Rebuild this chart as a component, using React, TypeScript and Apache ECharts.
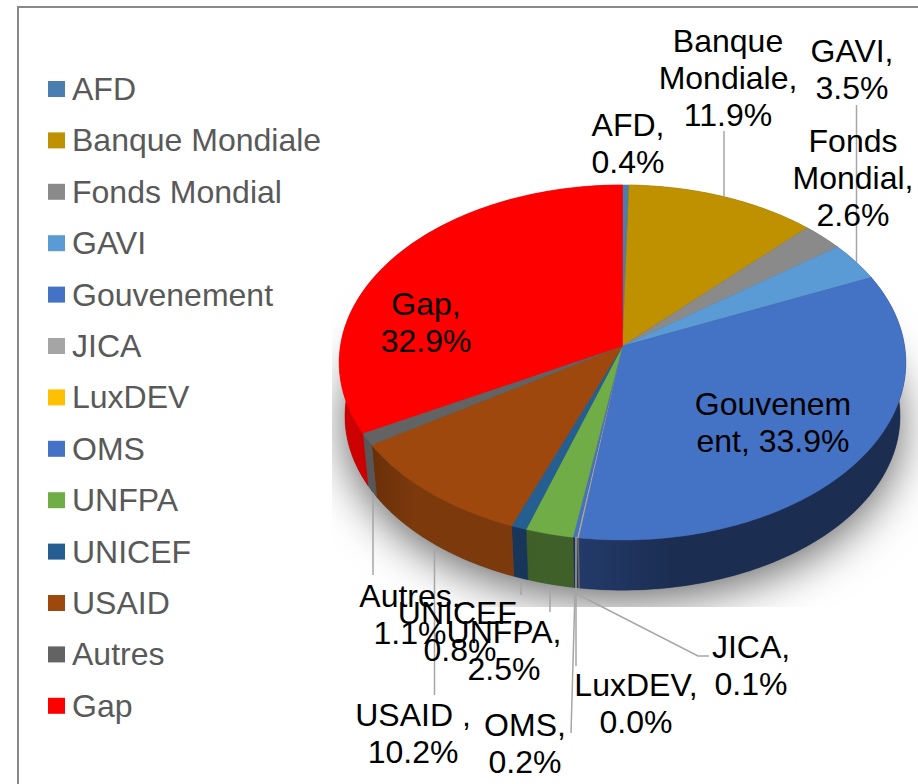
import React, { useEffect, useRef } from "react";
import * as echarts from "echarts";

const names = ["AFD", "Banque Mondiale", "Fonds Mondial", "GAVI", "Gouvenement", "JICA", "LuxDEV", "OMS", "UNFPA", "UNICEF", "USAID", "Autres", "Gap"];
const values = [0.4, 11.9, 2.6, 3.5, 33.9, 0.1, 0.0, 0.2, 2.5, 0.8, 10.2, 1.1, 32.9];
const colors = ["#4A7EB0", "#BF9000", "#8A8A8A", "#5B9BD5", "#4472C4", "#A5A5A5", "#FFC000", "#4472C4", "#70AD47", "#255E91", "#9E480E", "#636363", "#FF0000"];
const wallLeft = ["#2C4A68", "#7A5C00", "#555555", "#33597C", "#233A6A", "#666666", "#997300", "#1C2E55", "#3F5F27", "#17365A", "#6A2F08", "#575757", "#CC0000"];
const wallRight = ["#2C4A68", "#7A5C00", "#555555", "#33597C", "#1B2D50", "#666666", "#997300", "#1C2E55", "#40602A", "#17365A", "#7C390C", "#575757", "#CC0000"];
const labelLines: Record<string, (pct: string) => string[]> = {
  "AFD": (p) => ["AFD,", p],
  "Banque Mondiale": (p) => ["Banque", "Mondiale,", p],
  "Fonds Mondial": (p) => ["Fonds", "Mondial,", p],
  "GAVI": (p) => ["GAVI,", p],
  "Gouvenement": (p) => ["Gouvenem", "ent, " + p],
  "JICA": (p) => ["JICA,", p],
  "LuxDEV": (p) => ["LuxDEV,", p],
  "OMS": (p) => ["OMS,", p],
  "UNFPA": (p) => ["UNFPA,", p],
  "UNICEF": (p) => ["UNICEF,", p],
  "USAID": (p) => ["USAID ,", p],
  "Autres": (p) => ["Autres,", p],
  "Gap": (p) => ["Gap,", p],
};
// label layout: centre x, first-line centre y
const labelPos: Record<string, [number, number]> = {
  "AFD": [628, 125],
  "Banque Mondiale": [728, 41],
  "Fonds Mondial": [853, 141],
  "GAVI": [852, 51],
  "Gouvenement": [773, 404],
  "JICA": [751, 647],
  "LuxDEV": [636, 685],
  "OMS": [525, 725],
  "UNFPA": [504, 632],
  "UNICEF": [460, 613],
  "USAID": [413, 715],
  "Autres": [410, 596],
  "Gap": [426, 304],
};
const leaders: number[][][] = [
  [[724, 131], [724, 197]],
  [[856.5, 105], [856.5, 262]],
  [[373, 493], [373, 575]],
  [[434.5, 548], [434.5, 695]],
  [[521, 581], [521, 595]],
  [[550, 587], [550, 612]],
  [[575, 592], [571, 733]],
  [[576, 537], [576, 666]],
  [[573, 592], [698, 656], [709, 656]],
];

const CX = 622.5, CY = 346, RX = 282, RY = 176, K = 0.093, DROP = 54, BASE = 0.98;
const total = values.reduce((a, b) => a + b, 0);
const project = (deg: number, base = false): number[] => {
  const t = (deg * Math.PI) / 180;
  const X = Math.sin(t), Y = -Math.cos(t);
  const w = 1 - K * Y;
  const s = base ? BASE : 1;
  return [CX + (s * RX * X) / w, CY + (s * RY * Y) / w + (base ? DROP : 0)];
};
const arc = (a: number, b: number, base = false): number[][] => {
  const pts: number[][] = [];
  const n = Math.max(2, Math.ceil(Math.abs(b - a)));
  for (let i = 0; i <= n; i++) pts.push(project(a + ((b - a) * i) / n, base));
  return pts;
};
const startAngle = (i: number) => (values.slice(0, i).reduce((a, b) => a + b, 0) / total) * 360;

export default function App() {
  const ref = useRef<HTMLDivElement>(null);
  useEffect(() => {
    document.body.style.margin = "0";
    const chart = echarts.init(ref.current!, undefined, { renderer: "svg" });
    const series = names.map((name, i) => ({
      type: "custom",
      name,
      coordinateSystem: "none",
      itemStyle: { color: colors[i] },
      data: [[values[i]]],
      z: 2,
      renderItem: (_p: any, api: any) => {
        const v = api.value(0);
        if (!v) return { type: "group", children: [] };
        const a = startAngle(i);
        const b = a + (v / total) * 360;
        const top = arc(a, b);
        const bottom = arc(a, b, true).reverse();
        const thick = v >= 0.5;
        return {
          type: "group",
          children: [
            {
              type: "polygon",
              z2: 1,
              shape: { points: [...top, ...bottom] },
              style: {
                fill: { type: "linear", x: 0, y: 0, x2: 1, y2: 0, colorStops: [{ offset: 0, color: wallLeft[i] }, { offset: 0.3, color: wallRight[i] }, { offset: 1, color: wallRight[i] }] },
                stroke: wallRight[i],
                lineWidth: 0.4,
              },
            },
            {
              type: "polygon",
              z2: 10,
              shape: { points: [[CX, CY], ...top] },
              style: { fill: colors[i], stroke: thick ? colors[i] : "none", lineWidth: thick ? 0.4 : 0 },
            },
          ],
        };
      },
    }));

    const texts: any[] = [];
    names.forEach((name, i) => {
      const lines = labelLines[name](values[i].toFixed(1) + "%");
      const [x, y] = labelPos[name];
      lines.forEach((line, j) => {
        texts.push({
          type: "text",
          z: 6,
          x,
          y: y + j * 37,
          style: { text: line, fill: "#000000", font: '32px "Liberation Sans"', textAlign: "center", textVerticalAlign: "middle" },
        });
      });
    });
    const silhouette = arc(0, 360, true);

    chart.setOption({
      animation: false,
      backgroundColor: "#ffffff",
      legend: {
        orient: "vertical",
        left: 43,
        top: 67,
        itemWidth: 17,
        itemHeight: 16,
        itemGap: 17.4,
        icon: "rect",
        selectedMode: false,
        data: names,
        textStyle: { color: "#595959", fontSize: 32, fontFamily: "Liberation Sans", lineHeight: 34, padding: [0, 0, 0, 2] },
      },
      graphic: [
        { type: "rect", z: 0, shape: { x: 18, y: 7, width: 980, height: 880 }, style: { fill: "none", stroke: "#898989", lineWidth: 2 } },
        {
          type: "polygon",
          z: 1,
          shape: { points: silhouette },
          style: { fill: "#555555", shadowBlur: 46, shadowColor: "rgba(0,0,0,0.6)", shadowOffsetX: 0, shadowOffsetY: 10 },
        },
        { type: "rect", z: 1, z2: 5, shape: { x: 20, y: 607, width: 898, height: 177 }, style: { fill: "#ffffff" } },
        { type: "rect", z: 1, z2: 5, shape: { x: 20, y: 9, width: 312, height: 775 }, style: { fill: "#ffffff" } },
        ...leaders.map((pts) => ({
          type: "polyline",
          z: 5,
          shape: { points: pts },
          style: { fill: "none", stroke: "#A6A6A6", lineWidth: 1.5 },
        })),
        ...texts,
      ],
      series,
    });
    return () => chart.dispose();
  }, []);
  return <div ref={ref} style={{ width: 918, height: 784 }} />;
}
